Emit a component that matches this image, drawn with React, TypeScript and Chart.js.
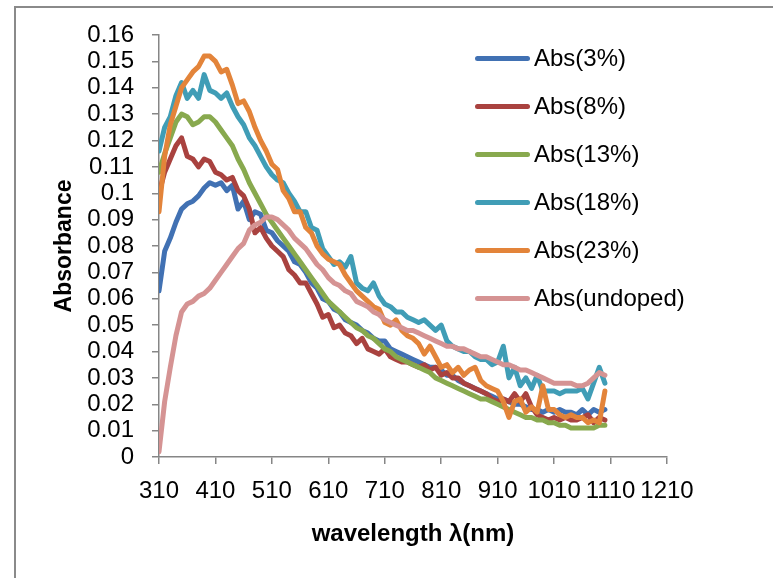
import React, { useEffect, useRef } from "react";
import { Chart, registerables } from "chart.js";

Chart.register(...registerables);

const wavelengths = [
  310, 320, 330, 340, 350, 360, 370, 380, 390, 400,
  410, 420, 430, 440, 450, 460, 470, 480, 490, 500,
  510, 520, 530, 540, 550, 560, 570, 580, 590, 600,
  610, 620, 630, 640, 650, 660, 670, 680, 690, 700,
  710, 720, 730, 740, 750, 760, 770, 780, 790, 800,
  810, 820, 830, 840, 850, 860, 870, 880, 890, 900,
  910, 920, 930, 940, 950, 960, 970, 980, 990, 1000,
  1010, 1020, 1030, 1040, 1050, 1060, 1070, 1080, 1090, 1100,
];

const abs3 = [
  0.063, 0.078, 0.083, 0.089, 0.094, 0.096, 0.097, 0.099, 0.102, 0.104,
  0.103, 0.104, 0.101, 0.103, 0.094, 0.097, 0.090, 0.093, 0.092, 0.086,
  0.085, 0.082, 0.080, 0.078, 0.074, 0.073, 0.070, 0.066, 0.064, 0.060,
  0.059, 0.056, 0.055, 0.052, 0.051, 0.050, 0.048, 0.047, 0.045, 0.044,
  0.044, 0.041, 0.040, 0.039, 0.038, 0.037, 0.036, 0.035, 0.034, 0.034,
  0.033, 0.031, 0.031, 0.029, 0.028, 0.027, 0.026, 0.025, 0.024, 0.023,
  0.022, 0.022, 0.021, 0.020, 0.020, 0.019, 0.018, 0.018, 0.017, 0.018,
  0.017, 0.018, 0.017, 0.017, 0.016, 0.018, 0.016, 0.018, 0.017, 0.018,
];

const abs8 = [
  0.100, 0.108, 0.113, 0.118, 0.121, 0.114, 0.113, 0.110, 0.113, 0.112,
  0.108, 0.107, 0.105, 0.106, 0.101, 0.099, 0.094, 0.085, 0.087, 0.083,
  0.080, 0.078, 0.076, 0.071, 0.069, 0.066, 0.066, 0.062, 0.058, 0.053,
  0.054, 0.049, 0.050, 0.047, 0.046, 0.043, 0.045, 0.041, 0.040, 0.039,
  0.041, 0.038, 0.037, 0.036, 0.036, 0.035, 0.034, 0.035, 0.033, 0.034,
  0.031, 0.032, 0.030, 0.030, 0.028, 0.027, 0.026, 0.025, 0.024, 0.022,
  0.021, 0.022, 0.021, 0.024, 0.021, 0.024, 0.019, 0.016, 0.015, 0.014,
  0.015, 0.014, 0.015, 0.014, 0.014, 0.015, 0.016, 0.013, 0.015, 0.014,
];

const abs13 = [
  0.108, 0.115, 0.121, 0.127, 0.130, 0.129, 0.126, 0.127, 0.129, 0.129,
  0.127, 0.124, 0.121, 0.118, 0.113, 0.109, 0.104, 0.100, 0.096, 0.092,
  0.089, 0.086, 0.083, 0.080, 0.077, 0.074, 0.071, 0.068, 0.065, 0.062,
  0.059, 0.057, 0.055, 0.053, 0.051, 0.049, 0.048, 0.046, 0.045, 0.043,
  0.041, 0.040, 0.038, 0.037, 0.036, 0.035, 0.034, 0.033, 0.032, 0.030,
  0.029, 0.028, 0.027, 0.026, 0.025, 0.024, 0.023, 0.022, 0.022, 0.021,
  0.020, 0.019, 0.018, 0.017, 0.016, 0.015, 0.015, 0.014, 0.014, 0.013,
  0.013, 0.012, 0.012, 0.011, 0.011, 0.011, 0.011, 0.011, 0.012, 0.012,
];

const abs18 = [
  0.116, 0.125, 0.129, 0.137, 0.142, 0.136, 0.139, 0.136, 0.145, 0.139,
  0.138, 0.136, 0.138, 0.133, 0.129, 0.126, 0.121, 0.118, 0.114, 0.110,
  0.107, 0.105, 0.104, 0.100, 0.097, 0.093, 0.093, 0.087, 0.086, 0.079,
  0.076, 0.073, 0.074, 0.072, 0.076, 0.066, 0.064, 0.063, 0.066, 0.061,
  0.058, 0.057, 0.055, 0.055, 0.053, 0.052, 0.051, 0.052, 0.050, 0.048,
  0.050, 0.044, 0.042, 0.041, 0.040, 0.040, 0.038, 0.037, 0.037, 0.035,
  0.036, 0.042, 0.030, 0.034, 0.027, 0.030, 0.026, 0.031, 0.025, 0.025,
  0.025, 0.024, 0.025, 0.025, 0.025, 0.026, 0.022, 0.028, 0.034, 0.028,
];

const abs23 = [
  0.093, 0.114, 0.126, 0.133, 0.140, 0.143, 0.146, 0.148, 0.152, 0.152,
  0.150, 0.146, 0.147, 0.141, 0.134, 0.135, 0.131, 0.125, 0.120, 0.116,
  0.111, 0.109, 0.101, 0.098, 0.093, 0.093, 0.087, 0.085, 0.080, 0.077,
  0.075, 0.074, 0.073, 0.069, 0.066, 0.063, 0.061, 0.059, 0.057, 0.056,
  0.051, 0.050, 0.052, 0.048, 0.046, 0.045, 0.043, 0.039, 0.042, 0.038,
  0.034, 0.035, 0.032, 0.034, 0.031, 0.033, 0.034, 0.029, 0.027, 0.026,
  0.025, 0.021, 0.015, 0.021, 0.022, 0.017, 0.019, 0.017, 0.027, 0.018,
  0.018, 0.016, 0.015, 0.016, 0.015, 0.015, 0.013, 0.014, 0.013, 0.025,
];

const absUndoped = [
  0.002, 0.021, 0.034, 0.046, 0.055, 0.058, 0.059, 0.061, 0.062, 0.064,
  0.067, 0.070, 0.073, 0.076, 0.079, 0.081, 0.086, 0.088, 0.089, 0.091,
  0.091, 0.090, 0.088, 0.086, 0.083, 0.081, 0.079, 0.076, 0.073, 0.071,
  0.068, 0.066, 0.065, 0.063, 0.062, 0.059, 0.058, 0.057, 0.055, 0.054,
  0.052, 0.051, 0.050, 0.049, 0.048, 0.048, 0.047, 0.046, 0.045, 0.044,
  0.043, 0.042, 0.042, 0.041, 0.041, 0.040, 0.039, 0.038, 0.038, 0.037,
  0.036, 0.035, 0.035, 0.034, 0.033, 0.033, 0.032, 0.031, 0.030, 0.029,
  0.028, 0.028, 0.028, 0.028, 0.027, 0.027, 0.028, 0.030, 0.032, 0.031,
];

const seriesNames = ["Abs(3%)", "Abs(8%)", "Abs(13%)", "Abs(18%)", "Abs(23%)", "Abs(undoped)"];
const seriesColors = ["#4171B3", "#A9423F", "#88A94E", "#409DB6", "#E3843A", "#D59393"];
const seriesValues = [abs3, abs8, abs13, abs18, abs23, absUndoped];

const xTicks = [310, 410, 510, 610, 710, 810, 910, 1010, 1110, 1210];
const yTicks = [0, 0.01, 0.02, 0.03, 0.04, 0.05, 0.06, 0.07, 0.08, 0.09, 0.1, 0.11, 0.12, 0.13, 0.14, 0.15, 0.16];

const FONT = "'Liberation Sans', Arial, sans-serif";
const AXIS = "#868686";

export default function App() {
  const ref = useRef<HTMLCanvasElement | null>(null);

  useEffect(() => {
    if (!ref.current) return;
    const datasets = seriesValues.map((vals, i) => ({
      label: seriesNames[i],
      data: vals.map((v, j) => ({ x: wavelengths[j], y: v })),
      borderColor: seriesColors[i],
      backgroundColor: seriesColors[i],
      borderWidth: 5,
      pointRadius: 0,
      tension: 0,
      fill: false,
      borderJoinStyle: "round" as const,
      borderCapStyle: "round" as const,
      order: seriesValues.length - 1 - i,
    }));
    const chart = new Chart(ref.current, {
      type: "line",
      data: { datasets },
      options: {
        animation: false,
        responsive: false,
        maintainAspectRatio: false,
        layout: { padding: { top: 35, right: 106, left: 0, bottom: 0 } },
        plugins: { legend: { display: false }, tooltip: { enabled: false } },
        scales: {
          x: {
            type: "linear",
            min: 310,
            max: 1210,
            afterBuildTicks: (s: any) => {
              s.ticks = xTicks.map((v) => ({ value: v }));
            },
            afterFit: (s: any) => {
              s.height = 121;
            },
            grid: { drawOnChartArea: false, drawTicks: true, tickLength: 7, color: AXIS, lineWidth: 1.5 },
            border: { display: true, color: AXIS, width: 1.5 },
            ticks: {
              color: "#000",
              font: { family: FONT, size: 24 },
              padding: 13,
              maxRotation: 0,
              autoSkip: false,
              callback: (v: any) => String(v),
            },
            title: {
              display: true,
              text: "wavelength λ(nm)",
              color: "#000",
              font: { family: FONT, size: 24, weight: "bold" },
              padding: { top: 0, bottom: 29 },
            },
          },
          y: {
            type: "linear",
            min: 0,
            max: 0.16,
            afterBuildTicks: (s: any) => {
              s.ticks = yTicks.map((v) => ({ value: v }));
            },
            afterFit: (s: any) => {
              s.width = 159;
            },
            grid: { drawOnChartArea: false, drawTicks: true, tickLength: 7, color: AXIS, lineWidth: 1.5 },
            border: { display: true, color: AXIS, width: 1.5 },
            ticks: {
              color: "#000",
              font: { family: FONT, size: 24 },
              padding: 18,
              autoSkip: false,
              callback: (v: any) => String(+Number(v).toFixed(2)),
            },
            title: {
              display: true,
              text: "Absorbance",
              color: "#000",
              font: { family: FONT, size: 23, weight: "bold" },
              padding: { top: 51, bottom: 0 },
            },
          },
        },
      },
    });
    return () => chart.destroy();
  }, []);

  return (
    <div style={{ position: "absolute", left: 0, top: 0, width: 773, height: 578, overflow: "hidden", background: "#fff" }}>
      <div
        style={{
          position: "absolute",
          left: 14,
          top: 6,
          width: 900,
          height: 700,
          border: "2px solid #8a8a8a",
          boxSizing: "border-box",
        }}
      />
      <canvas ref={ref} width={773} height={578} style={{ position: "absolute", left: 0, top: 0, width: 773, height: 578 }} />
      <div style={{ position: "absolute", left: 475, top: 34 }}>
        {seriesNames.map((name, i) => (
          <div key={name} style={{ display: "flex", alignItems: "center", height: 48 }}>
            <div style={{ width: 55, height: 5, borderRadius: 3, background: seriesColors[i] }} />
            <span style={{ marginLeft: 4, fontFamily: FONT, fontSize: 24, color: "#000", lineHeight: "26px" }}>{name}</span>
          </div>
        ))}
      </div>
    </div>
  );
}
